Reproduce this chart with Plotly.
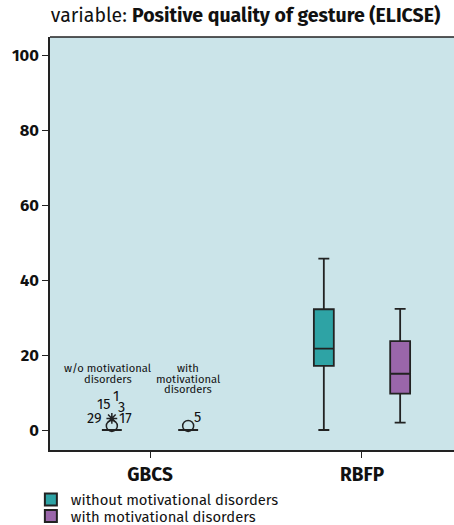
import plotly.graph_objects as go

# ---------------- data ----------------
categories = ["GBCS", "RBFP"]
group_names = ["without motivational disorders", "with motivational disorders"]
group_colors = ["#2ea3a5", "#9a66aa"]

# box statistics per group (order follows categories)
wo_q1 = [0.0, 17.1]
wo_median = [0.0, 21.7]
wo_q3 = [0.0, 32.2]
wo_lower = [0.0, 0.0]
wo_upper = [0.0, 45.7]

w_q1 = [0.0, 9.7]
w_median = [0.0, 15.0]
w_q3 = [0.0, 23.7]
w_lower = [0.0, 1.95]
w_upper = [0.0, 32.3]

# outliers in GBCS
wo_outlier_circle = [1.1]
wo_outlier_star = [3.1]
wo_star_labels = ["15", "1", "3", "29", "17"]
w_outlier_circle = [1.1]
w_circle_labels = ["5"]

wo_caption = ["w/o motivational", "disorders"]
w_caption = ["with", "motivational", "disorders"]

y_ticks = [0, 20, 40, 60, 80, 100]

# ---------------- layout constants ----------------
offset = 0.18
box_w = 0.094
frame = "#222222"
font_family = "Fira Sans, Noto Sans, Open Sans, sans-serif"

fig = go.Figure()

cat_pos = list(range(len(categories)))
stats = [
    (wo_q1, wo_median, wo_q3, wo_lower, wo_upper, -offset),
    (w_q1, w_median, w_q3, w_lower, w_upper, offset),
]
for gi, (q1, med, q3, lo, hi, off) in enumerate(stats):
    for ci in cat_pos:
        fig.add_trace(go.Box(
            x=[ci + off], q1=[q1[ci]], median=[med[ci]], q3=[q3[ci]],
            lowerfence=[lo[ci]], upperfence=[hi[ci]],
            width=box_w, whiskerwidth=0.55,
            fillcolor=group_colors[gi],
            line=dict(color=frame, width=1.8),
            boxpoints=False, showlegend=False, hoverinfo="skip",
        ))

# outlier markers
fig.add_trace(go.Scatter(
    x=[cat_pos[0] - offset] * len(wo_outlier_circle), y=wo_outlier_circle,
    mode="markers", marker=dict(symbol="circle-open", size=11, color=frame,
                                line=dict(width=1.5, color=frame)),
    showlegend=False, hoverinfo="skip"))
fig.add_trace(go.Scatter(
    x=[cat_pos[0] - offset] * len(wo_outlier_star), y=wo_outlier_star,
    mode="markers", marker=dict(symbol="asterisk-open", size=9, color=frame,
                                line=dict(width=1.5, color=frame)),
    showlegend=False, hoverinfo="skip"))
fig.add_trace(go.Scatter(
    x=[cat_pos[0] + offset] * len(w_outlier_circle), y=w_outlier_circle,
    mode="markers", marker=dict(symbol="circle-open", size=11, color=frame,
                                line=dict(width=1.5, color=frame)),
    showlegend=False, hoverinfo="skip"))

# outlier labels
star_shifts = [(-8, 14), (4, 22), (10, 11), (-17, 0), (14, 0)]
for lab, (dx, dy) in zip(wo_star_labels, star_shifts):
    fig.add_annotation(x=cat_pos[0] - offset, y=wo_outlier_star[0], text=lab,
                       showarrow=False, xshift=dx, yshift=dy, borderpad=0,
                       font=dict(size=14.5, color="#111", family=font_family))
fig.add_annotation(x=cat_pos[0] + offset, y=w_outlier_circle[0], text=w_circle_labels[0],
                   showarrow=False, xshift=9, yshift=9, borderpad=0,
                   font=dict(size=14.5, color="#111", family=font_family))

# group captions inside GBCS (one annotation per line, positions in axis units)
wo_caption_y = [16.4, 13.4]
w_caption_y = [16.4, 13.6, 10.8]
for txt, yy in zip(wo_caption, wo_caption_y):
    fig.add_annotation(x=cat_pos[0] - offset - 0.02, y=yy, text=txt, showarrow=False,
                       borderpad=0, yanchor="middle",
                       font=dict(size=11.2, color="#111", family=font_family))
for txt, yy in zip(w_caption, w_caption_y):
    fig.add_annotation(x=cat_pos[0] + offset, y=yy, text=txt, showarrow=False,
                       borderpad=0, yanchor="middle",
                       font=dict(size=11.2, color="#111", family=font_family))

# legend entries (one legend per entry for tight spacing)
legend_ids = ["legend", "legend2"]
for name, col, lid in zip(group_names, group_colors, legend_ids):
    fig.add_trace(go.Scatter(
        x=[None], y=[None], mode="markers", name=name, legend=lid,
        marker=dict(symbol="square", size=10, color=col, line=dict(color=frame, width=1.2)),
    ))

legend_style = dict(xref="container", yref="container", x=0.068, xanchor="left",
                    yanchor="middle", font=dict(size=14.8, color="#111"),
                    bgcolor="rgba(0,0,0,0)", itemsizing="constant", itemwidth=30)

fig.update_layout(
    width=454, height=525,
    margin=dict(l=50, r=0, t=37, b=75, autoexpand=False),
    paper_bgcolor="white", plot_bgcolor="#cbe4e9",
    font=dict(family=font_family, color="#111"),
    title=dict(text="variable: <b>Positive quality of gesture (ELICSE)</b>",
               x=0.541, xanchor="center", y=1 - 15 / 525, yanchor="middle",
               font=dict(size=19.5, color="#111")),
    showlegend=True,
    legend=dict(y=1 - 500 / 525, **legend_style),
    legend2=dict(y=1 - 516.5 / 525, **legend_style),
    xaxis=dict(range=[-0.4717, 1.434], tickvals=cat_pos, ticktext=categories,
               showgrid=False, zeroline=False, showline=True, linecolor=frame,
               linewidth=1.5, ticks="outside", ticklen=6, tickcolor=frame,
               tickfont=dict(size=19, weight="bold", color="#111")),
    yaxis=dict(range=[-5.33, 104.8], tickvals=y_ticks, showgrid=False, zeroline=False,
               showline=True, linecolor=frame, linewidth=1.5, ticks="outside",
               ticklen=6, tickcolor=frame,
               tickfont=dict(size=16.5, weight="bold", color="#111")),
    shapes=[dict(type="line", xref="paper", yref="paper", x0=0, x1=1, y0=1, y1=1,
                 line=dict(color=frame, width=1.5))],
)

fig.write_html("out.html", config={"displayModeBar": False},
               post_script="document.body.style.margin='0';document.body.style.overflow='hidden';")
